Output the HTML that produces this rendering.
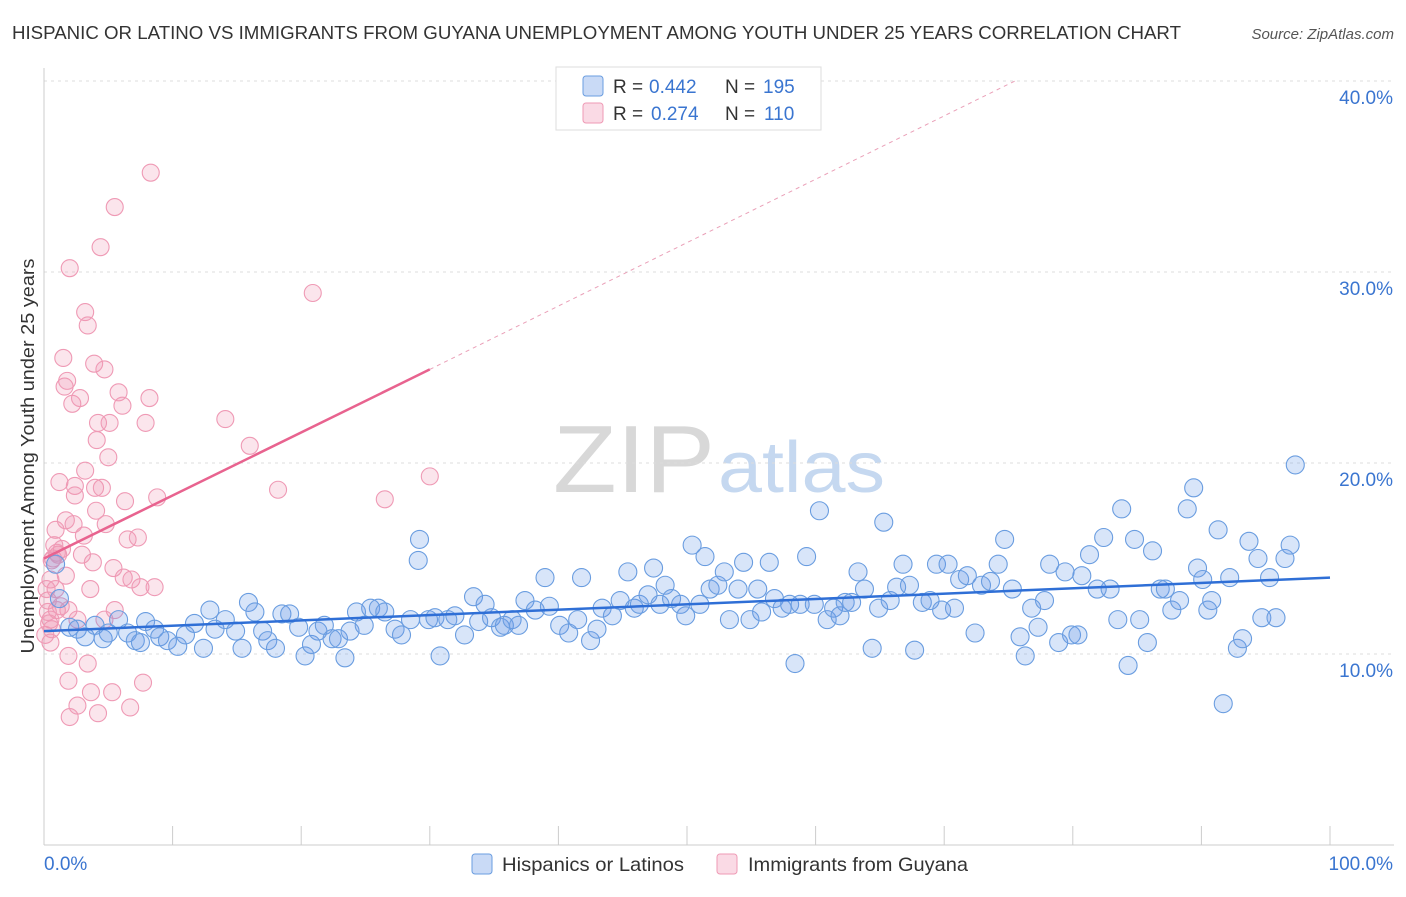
<!DOCTYPE html>
<html><head><meta charset="utf-8"><style>
body{margin:0;background:#fff;font-family:"Liberation Sans",sans-serif;}
svg text{font-family:"Liberation Sans",sans-serif;}
</style></head><body>
<svg id="chart" width="1406" height="892" viewBox="0 0 1406 892" xmlns="http://www.w3.org/2000/svg">
<text x="12" y="39" font-size="18" fill="#333" textLength="1169" lengthAdjust="spacingAndGlyphs">HISPANIC OR LATINO VS IMMIGRANTS FROM GUYANA UNEMPLOYMENT AMONG YOUTH UNDER 25 YEARS CORRELATION CHART</text>
<text x="1394" y="39" font-size="15" fill="#555" text-anchor="end" font-style="italic">Source: ZipAtlas.com</text>
<g>
<text x="553" y="492" font-size="96" fill="#d8d8d8" font-family="Liberation Serif,serif" textLength="162" lengthAdjust="spacingAndGlyphs">ZIP</text>
<text x="718" y="492" font-size="72" fill="#c5d8f0" textLength="167" lengthAdjust="spacingAndGlyphs">atlas</text>
</g>
<g id="grid"></g>
<g id="axes"></g>
<g id="pink"></g>
<g id="blue"></g>
<g id="trends"></g>
<text transform="translate(34,456) rotate(-90)" font-size="18" fill="#333" text-anchor="middle" textLength="395" lengthAdjust="spacingAndGlyphs">Unemployment Among Youth under 25 years</text>
<g>
<rect x="556" y="67" width="265" height="63" fill="#fff" stroke="#ddd"/>
<rect x="583" y="76" width="20" height="20" rx="3" fill="rgba(100,150,230,0.35)" stroke="#6a9de0"/>
<text x="613" y="93" font-size="19" fill="#333">R =</text>
<text x="649" y="93" font-size="19" fill="#3a75d0">0.442</text>
<text x="725" y="93" font-size="19" fill="#333">N =</text>
<text x="763" y="93" font-size="19" fill="#3a75d0">195</text>
<rect x="583" y="103" width="20" height="20" rx="3" fill="rgba(240,150,180,0.35)" stroke="#ef9ab5"/>
<text x="613" y="120" font-size="19" fill="#333">R =</text>
<text x="651" y="120" font-size="19" fill="#3a75d0">0.274</text>
<text x="725" y="120" font-size="19" fill="#333">N =</text>
<text x="764" y="120" font-size="19" fill="#3a75d0">110</text>
</g>
<g>
<rect x="472" y="854" width="20" height="20" rx="3" fill="rgba(100,150,230,0.35)" stroke="#6a9de0"/>
<text x="502" y="871" font-size="19.5" fill="#333" textLength="182" lengthAdjust="spacingAndGlyphs">Hispanics or Latinos</text>
<rect x="717" y="854" width="20" height="20" rx="3" fill="rgba(240,150,180,0.35)" stroke="#ef9ab5"/>
<text x="748" y="871" font-size="19.5" fill="#333" textLength="220" lengthAdjust="spacingAndGlyphs">Immigrants from Guyana</text>
</g>
</svg>
<script>
const yTicks=[10,20,30,40];
const yTickLabels=["10.0%","20.0%","30.0%","40.0%"];
const xTickLabels=["0.0%","100.0%"];
const blueX=[0.9,1.2,2.0,2.6,3.2,3.97,4.6,5.0,5.8,6.5,7.1,7.5,7.9,8.6,9.0,9.6,10.4,11.0,11.7,12.4,12.9,13.3,14.1,14.9,15.4,15.9,16.4,17.0,17.4,18.0,18.5,19.1,19.8,20.3,20.8,21.3,21.8,22.4,22.9,23.4,23.8,24.3,24.9,25.4,26.0,26.5,27.3,27.8,28.5,29.1,29.2,29.9,30.4,30.8,31.4,31.95,32.7,33.4,33.8,34.3,34.8,35.5,35.8,36.4,36.9,37.4,38.2,38.96,39.3,40.1,40.8,41.5,41.8,42.5,43.0,43.4,44.2,44.8,45.4,45.9,46.3,46.97,47.4,47.9,48.3,48.8,49.5,49.9,50.4,51.0,51.4,51.8,52.4,52.9,53.3,53.97,54.4,54.9,55.5,55.8,56.4,56.8,57.4,57.98,58.4,58.8,59.3,59.9,60.3,60.9,61.4,61.9,62.3,62.8,63.3,63.8,64.4,64.9,65.3,65.8,66.3,66.8,67.3,67.7,68.3,68.9,69.4,69.8,70.3,70.8,71.2,71.8,72.4,72.9,73.6,74.2,74.7,75.3,75.9,76.3,76.8,77.3,77.8,78.2,78.9,79.4,79.9,80.4,80.7,81.3,81.9,82.4,82.9,83.5,83.8,84.3,84.8,85.2,85.8,86.2,86.8,87.2,87.7,88.3,88.9,89.4,89.7,90.1,90.5,90.8,91.3,91.7,92.2,92.8,93.2,93.7,94.4,94.7,95.3,95.8,96.5,96.9,97.3];
const blueY=[14.7,12.9,11.4,11.3,10.9,11.5,10.8,11.1,11.8,11.1,10.7,10.6,11.7,11.3,10.9,10.7,10.4,11.0,11.6,10.3,12.3,11.3,11.8,11.2,10.3,12.7,12.2,11.2,10.7,10.3,12.1,12.1,11.4,9.9,10.5,11.2,11.5,10.8,10.8,9.8,11.2,12.2,11.5,12.4,12.4,12.2,11.3,11.0,11.8,14.9,16.0,11.8,11.9,9.9,11.8,12.0,11.0,13.0,11.7,12.6,11.9,11.4,11.5,11.8,11.5,12.8,12.3,14.0,12.5,11.5,11.1,11.8,14.0,10.7,11.3,12.4,12.0,12.8,14.3,12.4,12.6,13.1,14.5,12.6,13.6,12.9,12.6,12.0,15.7,12.6,15.1,13.4,13.6,14.3,11.8,13.4,14.8,11.8,13.4,12.2,14.8,12.9,12.4,12.6,9.5,12.6,15.1,12.6,17.5,11.8,12.4,12.0,12.7,12.7,14.3,13.4,10.3,12.4,16.9,12.8,13.5,14.7,13.6,10.2,12.7,12.8,14.7,12.3,14.7,12.4,13.9,14.1,11.1,13.6,13.8,14.7,16.0,13.4,10.9,9.9,12.4,11.4,12.8,14.7,10.6,14.3,11.0,11.0,14.1,15.2,13.4,16.1,13.4,11.8,17.6,9.4,16.0,11.8,10.6,15.4,13.4,13.4,12.3,12.8,17.6,18.7,14.5,13.9,12.3,12.8,16.5,7.4,14.0,10.3,10.8,15.9,15.0,11.9,14.0,11.9,15.0,15.7,19.9];
const pinkX=[0.3,0.5,0.5,0.6,0.6,0.8,0.9,0.9,1.0,1.1,1.2,1.4,1.5,1.6,1.7,1.7,1.8,1.9,1.9,1.9,2.0,2.0,2.2,2.3,2.4,2.4,2.6,2.6,2.8,2.95,3.1,3.2,3.2,3.4,3.4,3.6,3.65,3.8,3.9,3.97,4.05,4.1,4.2,4.2,4.4,4.5,4.7,4.7,4.8,5.0,5.1,5.3,5.4,5.5,5.5,5.8,6.1,6.2,6.3,6.5,6.7,6.8,7.3,7.5,7.7,7.9,8.2,8.3,8.6,8.8,14.1,16.0,18.2,20.9,26.5,30.0,0.1,0.2,0.5,0.3,0.7,1.3,0.4,1.0];
const pinkY=[12.8,13.9,11.8,14.9,11.3,15.7,16.5,13.4,12.3,15.2,19.0,15.5,25.5,24.0,17.0,14.1,24.3,12.3,9.9,8.6,30.2,6.7,23.1,16.8,18.8,18.3,7.3,11.8,23.4,15.2,16.2,19.6,27.9,27.2,9.5,13.4,8.0,14.8,25.2,18.7,17.5,21.2,22.1,6.9,31.3,18.7,11.8,24.9,16.8,20.3,22.1,8.0,14.5,33.4,12.3,23.7,23.0,14.0,18.0,16.0,7.2,13.9,16.1,13.5,8.5,22.1,23.4,35.2,13.5,18.2,22.3,20.9,18.6,28.9,18.1,19.3,11.0,13.4,10.6,12.2,15.0,12.5,11.6,15.3];
const blueTrend=[[0,11.2],[100,14.0]];
const pinkTrend=[[0,15.0],[30,24.9]];
const pinkDash=[[30,24.9],[75.5,40]];

const X=v=>44+v*12.86;
const Y=v=>845-v*19.1;
const NS="http://www.w3.org/2000/svg";
function mk(tag,attrs,parent){const e=document.createElementNS(NS,tag);for(const k in attrs)e.setAttribute(k,attrs[k]);document.getElementById(parent).appendChild(e);return e;}

yTicks.forEach((t,i)=>{
  const l=mk('line',{x1:44,x2:1394,y1:Y(t),y2:Y(t),stroke:'#ddd','stroke-dasharray':'3,4'},'grid');
  
  
  const tx=mk('text',{x:1393,y:Y(t)+23,'font-size':19,fill:'#3a75d0','text-anchor':'end'},'grid');
  tx.textContent=yTickLabels[i];
  
  
});
const ax=mk('line',{x1:44,x2:44,y1:68,y2:845,stroke:'#ccc'},'axes');


const bx=mk('line',{x1:44,x2:1394,y1:845,y2:845,stroke:'#ccc'},'axes');


for(let i=0;i<=10;i++){
  const t=mk('line',{x1:X(i*10),x2:X(i*10),y1:826,y2:845,stroke:'#ccc'},'axes');
  
  
}
[[0,'start',X(0)],[1,'end',1393]].forEach(([i,a,x])=>{
  const t=mk('text',{x:x,y:870,'font-size':19,fill:'#3a75d0','text-anchor':a},'axes');
  t.textContent=xTickLabels[i];
  
  
});
pinkX.forEach((v,i)=>{
  const c=mk('circle',{cx:X(v),cy:Y(pinkY[i]),r:8.5,fill:'rgba(240,150,180,0.25)',stroke:'#ef9ab5','stroke-width':1.1},'pink');
  
  
});
blueX.forEach((v,i)=>{
  const c=mk('circle',{cx:X(v),cy:Y(blueY[i]),r:9,fill:'rgba(100,150,230,0.25)',stroke:'#6a9de0','stroke-width':1.1},'blue');
  
  
});
const bt=mk('line',{x1:X(blueTrend[0][0]),y1:Y(blueTrend[0][1]),x2:X(blueTrend[1][0]),y2:Y(blueTrend[1][1]),stroke:'#2f6fd6','stroke-width':2.5},'trends');


const pt=mk('line',{x1:X(pinkTrend[0][0]),y1:Y(pinkTrend[0][1]),x2:X(pinkTrend[1][0]),y2:Y(pinkTrend[1][1]),stroke:'#e8638f','stroke-width':2.5},'trends');


const pd=mk('line',{x1:X(pinkDash[0][0]),y1:Y(pinkDash[0][1]),x2:X(pinkDash[1][0]),y2:Y(pinkDash[1][1]),stroke:'#eaa0b8','stroke-width':1,'stroke-dasharray':'4,4'},'trends');


</script>
</body></html>
